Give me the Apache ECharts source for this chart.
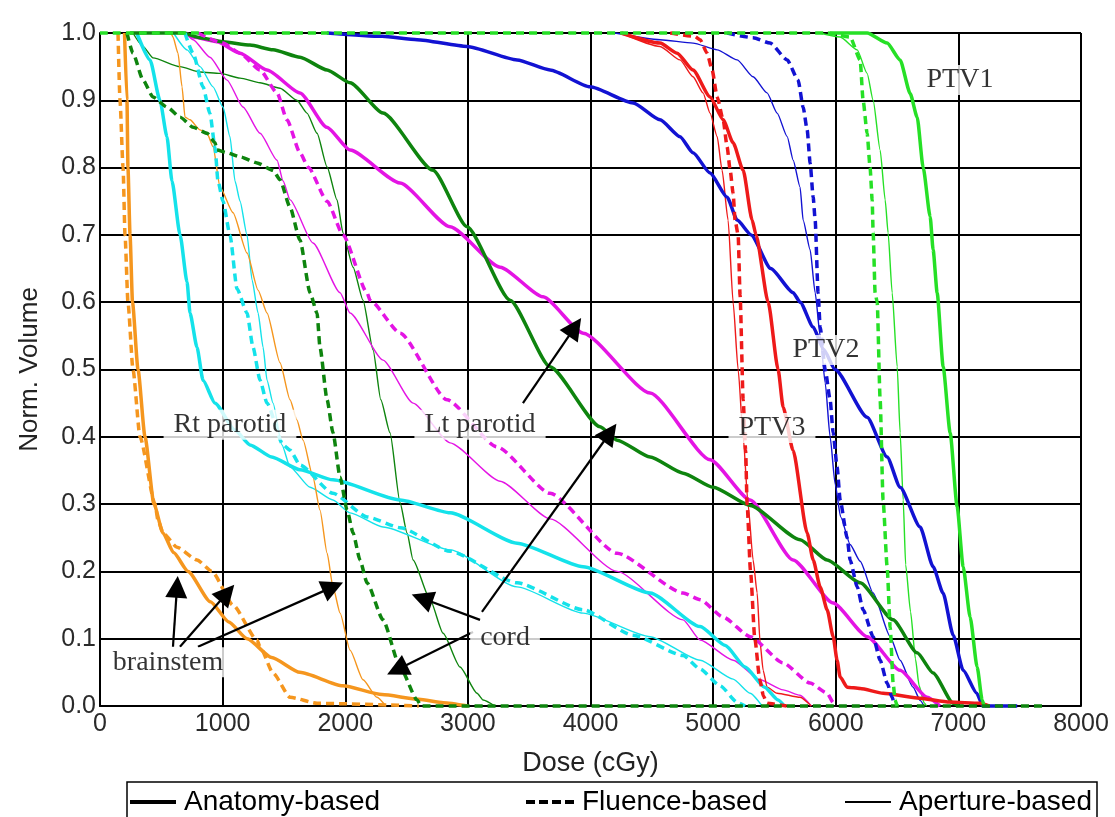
<!DOCTYPE html>
<html>
<head>
<meta charset="utf-8">
<script src="https://cdn.jsdelivr.net/npm/echarts@6/dist/echarts.min.js"></script>
<style>
html,body{margin:0;padding:0;background:#fff;}
#chart{width:1115px;height:817px;}
</style>
</head>
<body>
<div id="chart"></div>
<script>
// ---- Data: dose (cGy) vs normalized volume ----
// Brainstem (orange)
const brainstemAnatomy = [[200,1],[220,0.9],[228,0.8],[245,0.7],[265,0.6],[310,0.5],[367,0.4],[440,0.3],[514,0.257],[600,0.228],[718,0.2],[900,0.155],[1050,0.125],[1200,0.1],[1400,0.072],[1630,0.05],[1980,0.03],[2300,0.017],[2600,0.01],[2800,0.005],[3000,0]];
const brainstemFluence = [[147,1],[163,0.9],[188,0.8],[204,0.7],[228,0.6],[269,0.5],[326,0.4],[449,0.3],[473,0.276],[514,0.257],[628,0.236],[791,0.217],[913,0.2],[1085,0.15],[1280,0.098],[1305,0.088],[1411,0.049],[1550,0.013],[1770,0.004],[2600,0]];
const brainstemAperture = [[580,1],[595,0.994],[636,0.97],[669,0.92],[693,0.875],[734,0.871],[816,0.856],[873,0.851],[922,0.831],[979,0.771],[1085,0.733],[1199,0.673],[1289,0.618],[1362,0.584],[1468,0.51],[1550,0.455],[1606,0.425],[1656,0.395],[1737,0.34],[1794,0.291],[1852,0.227],[1900,0.177],[1958,0.138],[2039,0.083],[2145,0.039],[2259,0.013],[2330,0]];
// Rt parotid (cyan)
const rtParotidAnatomy = [[300,1],[408,0.96],[489,0.9],[546,0.846],[587,0.78],[653,0.7],[710,0.63],[734,0.584],[791,0.533],[840,0.484],[938,0.45],[1100,0.41],[1223,0.388],[1400,0.37],[1631,0.351],[1900,0.336],[2447,0.306],[2855,0.287],[3401,0.242],[3940,0.207],[4486,0.168],[4894,0.118],[5100,0.09],[5261,0.058],[5420,0.028],[5530,0.009],[5580,0]];
const rtParotidFluence = [[693,1],[759,0.97],[840,0.92],[897,0.88],[938,0.83],[962,0.78],[1003,0.75],[1060,0.7],[1117,0.62],[1199,0.584],[1248,0.533],[1305,0.484],[1362,0.45],[1493,0.388],[1550,0.38],[1631,0.358],[1900,0.316],[2178,0.281],[2447,0.265],[2855,0.23],[3401,0.183],[3940,0.143],[4348,0.105],[4755,0.075],[4894,0.055],[5057,0.03],[5200,0.005],[5261,0]];
const rtParotidAperture = [[600,1],[710,0.975],[816,0.95],[922,0.92],[1003,0.89],[1060,0.846],[1101,0.78],[1142,0.75],[1199,0.7],[1240,0.633],[1289,0.584],[1330,0.533],[1362,0.484],[1411,0.45],[1484,0.388],[1550,0.355],[1713,0.325],[1900,0.306],[2039,0.287],[2308,0.266],[2855,0.232],[3401,0.177],[3940,0.138],[4486,0.103],[4894,0.068],[5163,0.04],[5302,0.019],[5400,0]];
// Lt parotid (magenta)
const ltParotidAnatomy = [[700,1],[759,0.994],[954,0.987],[1142,0.97],[1362,0.945],[1631,0.911],[1850,0.86],[2039,0.826],[2447,0.777],[2855,0.712],[3263,0.652],[3613,0.608],[3940,0.554],[4486,0.465],[4976,0.366],[5302,0.306],[5652,0.217],[5979,0.153],[6256,0.103],[6525,0.053],[6745,0.013],[6850,0]];
const ltParotidFluence = [[800,1],[1003,0.985],[1142,0.97],[1305,0.945],[1444,0.911],[1525,0.871],[1631,0.822],[1700,0.8],[1852,0.75],[1982,0.7],[2178,0.614],[2202,0.603],[2447,0.554],[2830,0.455],[3238,0.385],[3670,0.316],[4217,0.227],[4755,0.168],[4894,0.158],[5082,0.132],[5302,0.103],[5571,0.064],[5791,0.034],[5930,0.019],[5980,0.005],[6000,0]];
const ltParotidAperture = [[700,1],[759,0.99],[897,0.964],[1036,0.93],[1166,0.89],[1305,0.851],[1444,0.811],[1493,0.78],[1550,0.752],[1737,0.688],[1958,0.614],[2039,0.584],[2308,0.514],[2553,0.45],[2855,0.391],[3263,0.334],[3670,0.278],[4217,0.2],[4755,0.128],[4894,0.098],[5163,0.068],[5383,0.039],[5571,0.024],[5709,0.016],[5800,0]];
// Cord (dark green)
const cordAnatomy = [[245,1],[677,1],[816,0.993],[1003,0.987],[1223,0.982],[1411,0.975],[1631,0.964],[1852,0.945],[2039,0.926],[2308,0.881],[2716,0.796],[2993,0.712],[3344,0.603],[3670,0.504],[4078,0.415],[4217,0.395],[4486,0.37],[4755,0.346],[5000,0.325],[5302,0.298],[5709,0.247],[5930,0.217],[6199,0.183],[6467,0.128],[6664,0.079],[6794,0.049],[6958,0.004],[7000,0]];
const cordFluence = [[220,1],[269,0.97],[351,0.93],[432,0.905],[546,0.89],[653,0.875],[759,0.86],[873,0.851],[938,0.837],[954,0.826],[1036,0.822],[1142,0.816],[1281,0.807],[1411,0.796],[1468,0.782],[1550,0.741],[1631,0.692],[1713,0.614],[1770,0.584],[1794,0.533],[1852,0.455],[1900,0.406],[1958,0.34],[2015,0.291],[2064,0.257],[2120,0.217],[2178,0.183],[2308,0.128],[2447,0.058],[2586,0.009],[2620,0],[7700,0]];
const cordAperture = [[269,1],[351,0.98],[432,0.963],[653,0.95],[816,0.942],[979,0.94],[1142,0.933],[1305,0.926],[1468,0.918],[1606,0.9],[1688,0.881],[1770,0.851],[1852,0.801],[1933,0.752],[1982,0.703],[2064,0.652],[2145,0.603],[2227,0.529],[2290,0.455],[2365,0.406],[2447,0.302],[2504,0.257],[2553,0.217],[2692,0.158],[2798,0.108],[2936,0.058],[3075,0.019],[3124,0.009],[3220,0]];
// PTV3 (red)
const ptv3Anatomy = [[4250,1],[4567,0.985],[4706,0.97],[4836,0.945],[4975,0.905],[5082,0.871],[5163,0.837],[5245,0.796],[5318,0.722],[5350,0.7],[5449,0.6],[5530,0.5],[5571,0.444],[5652,0.38],[5767,0.257],[5816,0.217],[5873,0.177],[5930,0.143],[5979,0.103],[6011,0.068],[6036,0.043],[6093,0.028],[6199,0.026],[6386,0.019],[6664,0.012],[6931,0.006],[7176,0.004],[7250,0]];
const ptv3Fluence = [[4650,1],[4850,0.995],[4894,0.99],[4951,0.97],[4992,0.945],[5033,0.905],[5082,0.871],[5114,0.831],[5139,0.796],[5163,0.762],[5179,0.722],[5204,0.7],[5220,0.61],[5245,0.455],[5265,0.38],[5277,0.3],[5305,0.2],[5340,0.1],[5380,0.04],[5410,0.015],[5440,0.004],[5600,0]];
const ptv3Aperture = [[4250,1],[4567,0.98],[4730,0.96],[4836,0.935],[4918,0.911],[4975,0.881],[5033,0.846],[5073,0.796],[5122,0.722],[5163,0.6],[5204,0.5],[5245,0.4],[5285,0.3],[5326,0.217],[5359,0.168],[5383,0.094],[5408,0.053],[5440,0.028],[5522,0.019],[5709,0.013],[5800,0]];
// PTV2 (blue)
const ptv2Anatomy = [[1850,1],[2300,0.995],[2586,0.99],[2993,0.98],[3401,0.96],[3670,0.945],[3997,0.92],[4348,0.896],[4567,0.871],[4730,0.846],[4836,0.822],[4975,0.792],[5114,0.756],[5196,0.722],[5310,0.7],[5470,0.65],[5653,0.614],[5710,0.6],[5816,0.563],[5900,0.53],[5995,0.5],[6256,0.429],[6419,0.37],[6525,0.325],[6688,0.266],[6794,0.207],[6875,0.168],[6958,0.105],[7039,0.053],[7150,0.019],[7200,0],[7480,0]];
const ptv2Fluence = [[5114,1],[5326,0.993],[5465,0.985],[5604,0.96],[5693,0.93],[5734,0.89],[5767,0.856],[5791,0.807],[5816,0.756],[5832,0.722],[5856,0.614],[5873,0.563],[5914,0.5],[5954,0.455],[5979,0.406],[6011,0.355],[6036,0.306],[6093,0.25],[6117,0.217],[6175,0.177],[6223,0.143],[6305,0.103],[6362,0.068],[6419,0.034],[6460,0.013],[6480,0]];
const ptv2Aperture = [[4200,1],[4567,0.99],[4836,0.985],[5033,0.975],[5196,0.96],[5326,0.935],[5440,0.911],[5522,0.881],[5604,0.846],[5653,0.811],[5709,0.771],[5734,0.722],[5791,0.678],[5832,0.614],[5873,0.55],[5914,0.48],[5954,0.4],[5995,0.33],[6040,0.281],[6117,0.24],[6199,0.215],[6305,0.168],[6444,0.103],[6525,0.068],[6630,0.028],[6690,0.008],[6720,0]];
// PTV1 (bright green)
const ptv1Anatomy = [[5950,1],[6256,1],[6419,0.985],[6525,0.96],[6607,0.91],[6664,0.875],[6713,0.8],[6770,0.727],[6794,0.678],[6827,0.614],[6876,0.504],[6933,0.406],[6990,0.296],[7039,0.207],[7096,0.132],[7153,0.058],[7194,0.009],[7210,0]];
const ptv1Fluence = [[0,1],[5930,1],[6117,0.994],[6199,0.96],[6223,0.9],[6256,0.851],[6280,0.8],[6297,0.752],[6305,0.703],[6321,0.614],[6338,0.6],[6362,0.455],[6386,0.306],[6419,0.207],[6444,0.117],[6468,0.034],[6484,0.009],[6500,0]];
const ptv1Aperture = [[5870,1],[6036,0.994],[6175,0.975],[6256,0.94],[6305,0.9],[6362,0.826],[6403,0.752],[6427,0.703],[6460,0.614],[6501,0.504],[6525,0.406],[6550,0.306],[6570,0.21],[6610,0.14],[6650,0.07],[6680,0.03],[6720,0.005],[6740,0]];

// Annotation labels [dose, volume, text]
const structureLabels = [[7013,0.93,'PTV1'],[5920,0.529,'PTV2'],[5480,0.413,'PTV3'],[1060,0.418,'Rt parotid'],[3099,0.418,'Lt parotid'],[3303,0.101,'cord'],[555,0.065,'brainstem']];
// Arrows [fromDose, fromVol, toDose, toVol]
const arrows = [[595,0.088,628,0.177],[652,0.088,1036,0.168],[799,0.088,1900,0.177],[3099,0.128,2626,0.160],[3042,0.110,2422,0.054],[3115,0.140,4159,0.406],[3449,0.450,3873,0.563]];

const xTicks = {min:0, max:8000, interval:1000};
const yTicks = {min:0, max:1, interval:0.1};
const methods = ['Anatomy-based','Fluence-based','Aperture-based'];

const colors = {
  brainstem:'#f5961e', rt:'#14e2ea', lt:'#e414e4', cord:'#0e840e', ptv3:'#ee1a1a', ptv2:'#1212d2', ptv1:'#26e026'
};

const STY = {
  anatomy:{width:3.5, type:'solid'},
  fluence:{width:3.5, type:[8,5]},
  aperture:{width:1.4, type:'solid'}
};

function curve(name, data, color, kind){
  return {
    type:'line', name:name, data:data, showSymbol:false, symbol:'none', clip:false,
    smooth:0.2, smoothMonotone:'x',
    lineStyle:{color:color, width:STY[kind].width, type:STY[kind].type, cap:'butt'},
    itemStyle:{color:color},
    emphasis:{disabled:true}, silent:true, z:2
  };
}

const series = [
  curve('cordAperture', cordAperture, colors.cord, 'aperture'),
  curve('ltAperture', ltParotidAperture, colors.lt, 'aperture'),
  curve('rtAperture', rtParotidAperture, colors.rt, 'aperture'),
  curve('bsAperture', brainstemAperture, colors.brainstem, 'aperture'),
  curve('ptv3Aperture', ptv3Aperture, colors.ptv3, 'aperture'),
  curve('ptv2Aperture', ptv2Aperture, colors.ptv2, 'aperture'),
  curve('ptv1Aperture', ptv1Aperture, colors.ptv1, 'aperture'),
  curve('rtAnatomy', rtParotidAnatomy, colors.rt, 'anatomy'),
  curve('ltAnatomy', ltParotidAnatomy, colors.lt, 'anatomy'),
  curve('cordAnatomy', cordAnatomy, colors.cord, 'anatomy'),
  curve('ptv2Anatomy', ptv2Anatomy, colors.ptv2, 'anatomy'),
  curve('ptv3Anatomy', ptv3Anatomy, colors.ptv3, 'anatomy'),
  curve('ptv1Anatomy', ptv1Anatomy, colors.ptv1, 'anatomy'),
  curve('bsAnatomy', brainstemAnatomy, colors.brainstem, 'anatomy'),
  curve('rtFluence', rtParotidFluence, colors.rt, 'fluence'),
  curve('ltFluence', ltParotidFluence, colors.lt, 'fluence'),
  curve('ptv3Fluence', ptv3Fluence, colors.ptv3, 'fluence'),
  curve('ptv2Fluence', ptv2Fluence, colors.ptv2, 'fluence'),
  curve('bsFluence', brainstemFluence, colors.brainstem, 'fluence'),
  curve('cordFluence', cordFluence, colors.cord, 'fluence'),
  curve('ptv1Fluence', ptv1Fluence, colors.ptv1, 'fluence')
];

// legend key series (no data)
methods.forEach(function(m){
  series.push({type:'line', name:m, data:[], symbol:'none',
    lineStyle:{color:'#000'}, itemStyle:{color:'#000'}});
});

// arrows
series.push({
  type:'lines', coordinateSystem:'cartesian2d', silent:true, z:8,
  symbol:['none','triangle'], symbolSize:[15,22],
  lineStyle:{color:'#000', width:2.2, opacity:1, curveness:0},
  data: arrows.map(function(a){ return {coords:[[a[0],a[1]],[a[2],a[3]]]}; })
});

// structure labels with white background
series.push({
  type:'scatter', silent:true, z:10, symbolSize:1,
  itemStyle:{color:'rgba(0,0,0,0)'},
  label:{show:true, position:'inside', formatter:'{b}', color:'#000',
    fontFamily:'Liberation Serif', fontSize:28, backgroundColor:'#fff', padding:[1,10]},
  data: structureLabels.map(function(l){ return {name:l[2], value:[l[0],l[1]]}; })
});

const chart = echarts.init(document.getElementById('chart'), null, {renderer:'canvas'});
const legendBase = {orient:'horizontal', top:788, padding:0, itemWidth:46,
  textStyle:{fontFamily:'Liberation Sans', fontSize:28, color:'#000', padding:[0,0,0,3]}, selectedMode:false};
chart.setOption({
  animation:false,
  backgroundColor:'#fff',
  grid:{left:100, right:34, top:33, bottom:111, containLabel:false},
  xAxis:{type:'value', min:xTicks.min, max:xTicks.max, interval:xTicks.interval,
    name:'Dose (cGy)', nameLocation:'middle', nameGap:44,
    nameTextStyle:{fontFamily:'Liberation Sans', fontSize:27, color:'#222'},
    axisLine:{show:true, lineStyle:{color:'#000', width:2}}, axisTick:{show:false},
    axisLabel:{fontFamily:'Liberation Sans', fontSize:25, color:'#2a2a2a', margin:6,
      formatter:function(v){return String(v);}},
    splitLine:{show:true, lineStyle:{color:'#000', width:2}}},
  yAxis:{type:'value', min:yTicks.min, max:yTicks.max, interval:yTicks.interval,
    name:'Norm. Volume', nameLocation:'middle', nameGap:57, nameRotate:90,
    nameTextStyle:{fontFamily:'Liberation Sans', fontSize:26, color:'#222'},
    axisLine:{show:true, lineStyle:{color:'#000', width:2}}, axisTick:{show:false},
    axisLabel:{fontFamily:'Liberation Sans', fontSize:25, color:'#2a2a2a', margin:4,
      formatter:function(v){return v.toFixed(1);}},
    splitLine:{show:true, lineStyle:{color:'#000', width:2}}},
  legend:[
    Object.assign({}, legendBase, {left:130, icon:'rect', itemHeight:4, data:[methods[0]]}),
    Object.assign({}, legendBase, {left:526, itemWidth:48, itemHeight:4,
      icon:'path://M0,0h9v4h-9z M13,0h9v4h-9z M26,0h9v4h-9z M39,0h9v4h-9z', data:[methods[1]]}),
    Object.assign({}, legendBase, {left:845, icon:'rect', itemHeight:2, data:[methods[2]]})
  ],
  graphic:[{type:'rect', shape:{x:127, y:782, width:970, height:60},
    style:{fill:'none', stroke:'#000', lineWidth:1.5}, silent:true}],
  series:series
});
</script>
</body>
</html>
